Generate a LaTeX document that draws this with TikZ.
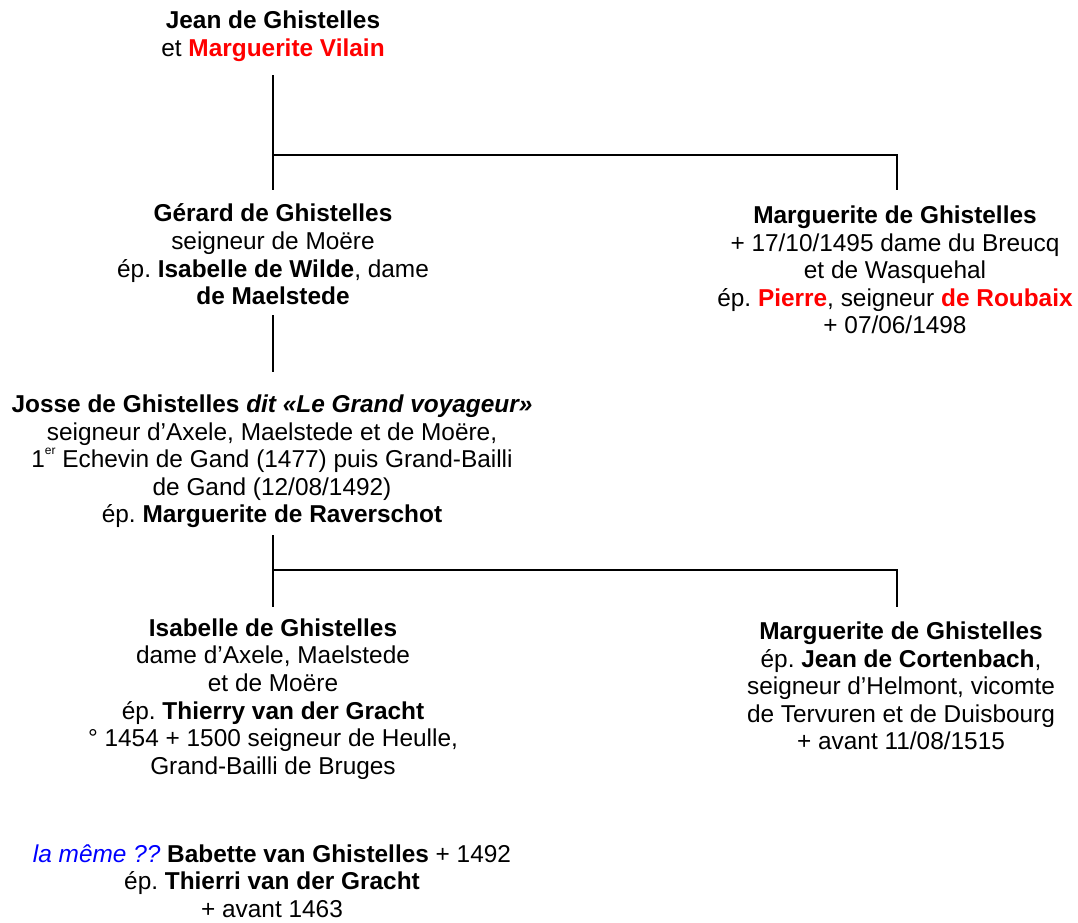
\documentclass[tikz,border=0pt]{standalone}
\usepackage{fontspec}
\setmainfont{Liberation Sans}
\definecolor{rouge}{RGB}{255,0,0}
\definecolor{bleu}{RGB}{0,0,255}
\frenchspacing
\begin{document}
\begin{tikzpicture}[x=1pt,y=-1pt,
  person/.style={align=center, font=\fontsize{24.4}{27.6}\selectfont, inner sep=0pt},
  link/.style={line width=1.6pt}]
\useasboundingbox (0,0) rectangle (1078,922);
\node[person] (jean) at (273,36) {\textbf{Jean de Ghistelles}\\et \textcolor{rouge}{\textbf{Marguerite Vilain}}};
\node[person] (gerard) at (273,254.5) {\textbf{Gérard de Ghistelles}\\seigneur de Moëre\\ép. \textbf{Isabelle de Wilde}, dame\\\textbf{de Maelstede}};
\node[person] (marg1) at (895,270) {\textbf{Marguerite de Ghistelles}\\+ 17/10/1495 dame du Breucq\\et de Wasquehal\\ép. \textcolor{rouge}{\textbf{Pierre}}, seigneur \textcolor{rouge}{\textbf{de Roubaix}}\\+ 07/06/1498};
\node[person] (josse) at (272,461.5) {\textbf{Josse de Ghistelles} \textbf{\textit{dit «Le Grand voyageur»}}\\seigneur d’Axele, Maelstede et de Moëre,\\1\raisebox{0.55em}{\fontsize{12}{12}\selectfont er} Echevin de Gand (1477) puis Grand-Bailli\\de Gand (12/08/1492)\\ép. \textbf{Marguerite de Raverschot}};
\node[person] (isabelle) at (273,699) {\textbf{Isabelle de Ghistelles}\\dame d’Axele, Maelstede\\et de Moëre\\ép. \textbf{Thierry van der Gracht}\\° 1454 + 1500 seigneur de Heulle,\\Grand-Bailli de Bruges};
\node[person] (marg2) at (901,686) {\textbf{Marguerite de Ghistelles}\\ép. \textbf{Jean de Cortenbach},\\seigneur d’Helmont, vicomte\\de Tervuren et de Duisbourg\\+ avant 11/08/1515};
\node[person] (babette) at (272,881) {\textcolor{bleu}{\textit{la même ??}} \textbf{Babette van Ghistelles} + 1492\\ép. \textbf{Thierri van der Gracht}\\+ avant 1463};
% connector points
\coordinate (jeanB) at (273,75);
\coordinate (gerT) at (273,190);
\coordinate (br1) at (273,155);
\coordinate (br1r) at (897,155);
\coordinate (m1T) at (897,190);
\coordinate (gerB) at (273,315);
\coordinate (josT) at (273,372);
\coordinate (josB) at (273,535);
\coordinate (isaT) at (273,607);
\coordinate (br2) at (273,570);
\coordinate (br2r) at (897,570);
\coordinate (m2T) at (897,607);
\draw[link] (jeanB) -- (gerT);
\draw[link] (br1) -- (br1r) -- (m1T);
\draw[link] (gerB) -- (josT);
\draw[link] (josB) -- (isaT);
\draw[link] (br2) -- (br2r) -- (m2T);
\end{tikzpicture}
\end{document}
